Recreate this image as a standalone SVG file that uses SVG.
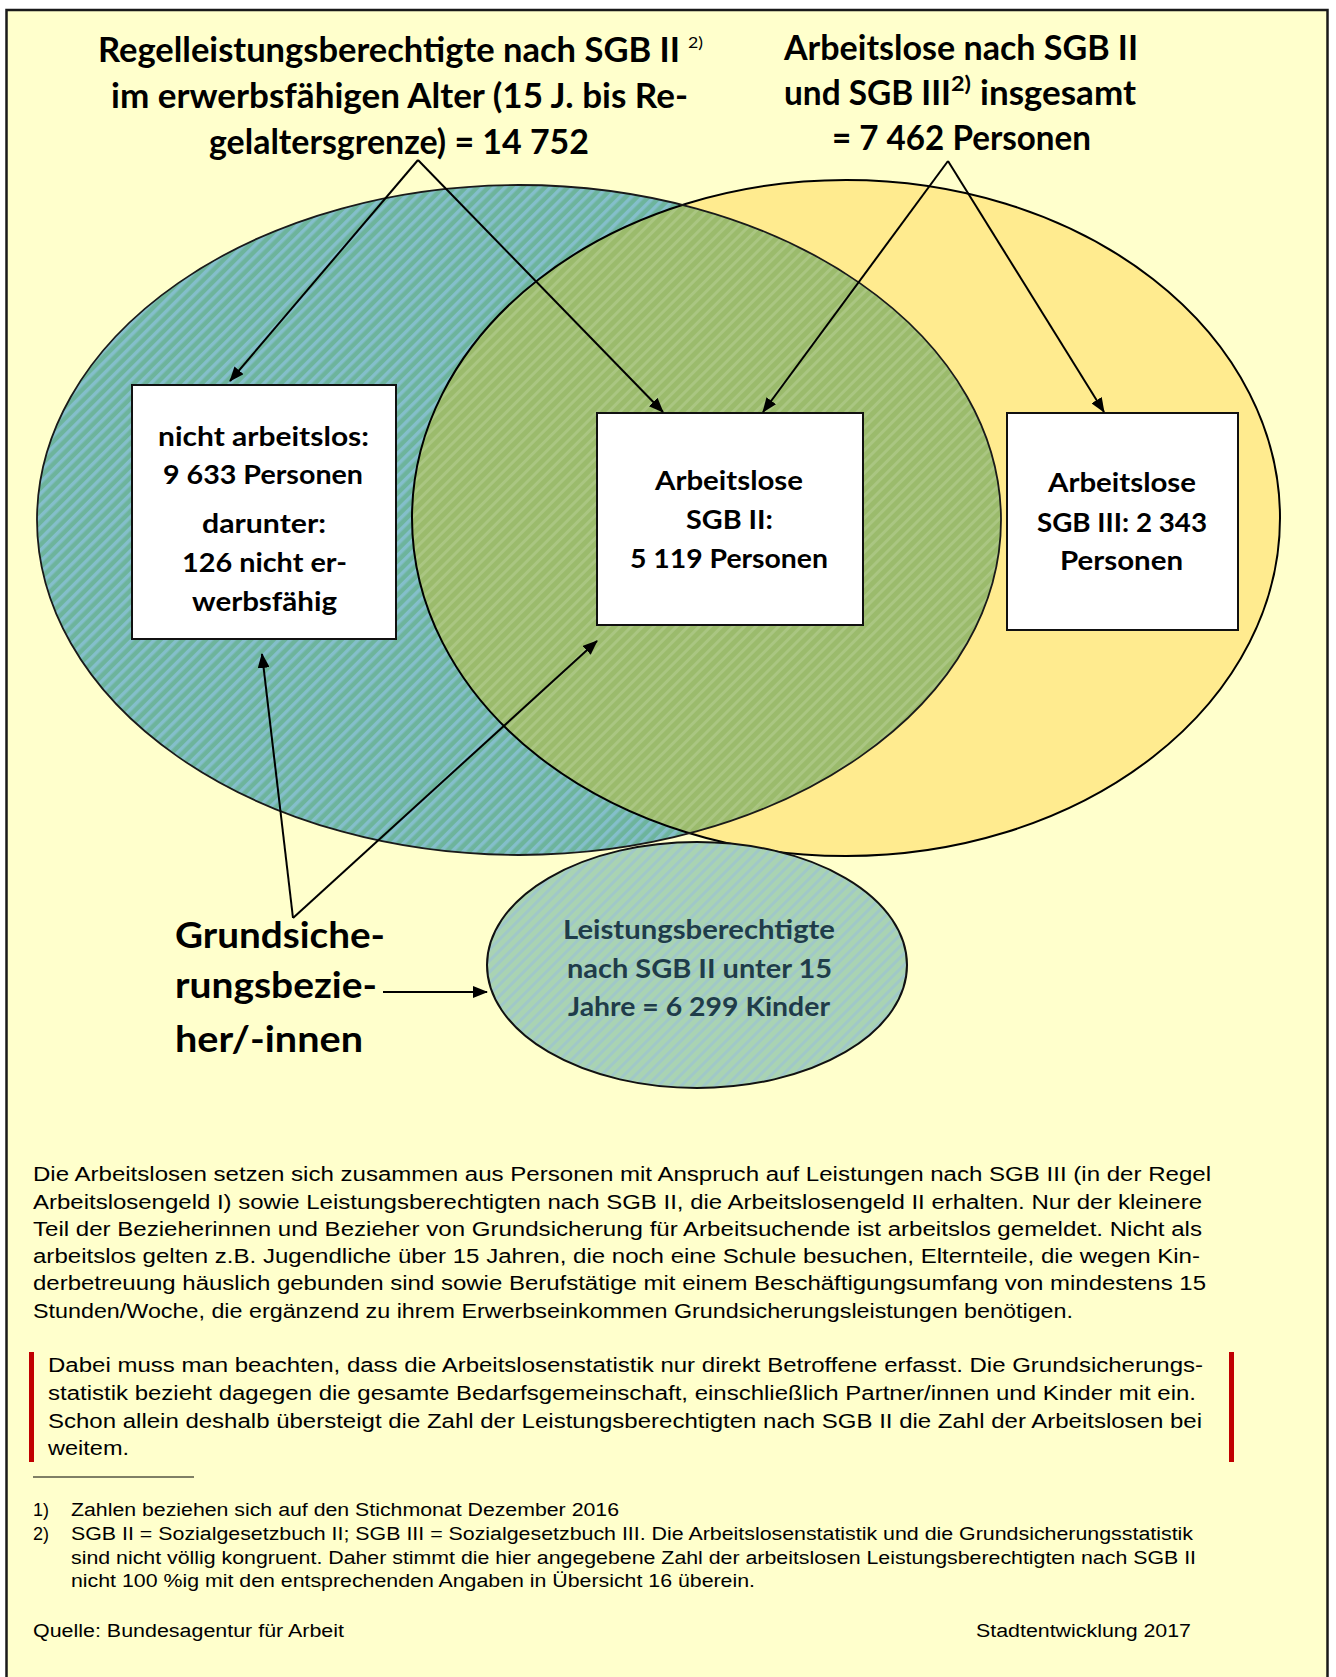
<svg xmlns="http://www.w3.org/2000/svg" width="1336" height="1677" viewBox="0 0 1336 1677">
<style>
.b{font-family:Lato,"Open Sans","DejaVu Sans",sans-serif;font-weight:bold;fill:#000}
.t{font-size:34px}
.bx{font-size:26px}
.g{font-size:36px}
.k{font-size:26px;fill:#1f3c4a}
.p{font-family:"Liberation Sans",Arial,sans-serif;font-size:20px;fill:#000}
.f{font-family:"Liberation Sans",Arial,sans-serif;font-size:18px;fill:#000}
.box{fill:#fff;stroke:#111;stroke-width:2}
.c{stroke:#000;stroke-width:2;fill:none;marker-end:url(#ah)}
</style>
<defs>
<marker id="ah" markerUnits="userSpaceOnUse" markerWidth="15" markerHeight="12" refX="14" refY="6" orient="auto">
<path d="M0,0 L15,6 L0,12 z" fill="#000"/>
</marker>
<pattern id="hb" width="8" height="8" patternUnits="userSpaceOnUse" patternTransform="rotate(45)">
<rect width="8" height="8" fill="#6db49c"/><rect width="3.5" height="8" fill="#84bfcb"/>
</pattern>
<pattern id="hg" width="8" height="8" patternUnits="userSpaceOnUse" patternTransform="rotate(45)">
<rect width="8" height="8" fill="#9bbb6c"/><rect width="3" height="8" fill="#aac682"/>
</pattern>
<pattern id="hs" width="8" height="8" patternUnits="userSpaceOnUse" patternTransform="rotate(45)">
<rect width="8" height="8" fill="#a9d3b3"/><rect width="3" height="8" fill="#a0c8c8"/>
</pattern>
<clipPath id="cy"><ellipse cx="846" cy="518" rx="434" ry="338"/></clipPath>
</defs>
<rect x="0" y="0" width="1336" height="1677" fill="#fff"/>
<rect x="6.5" y="10" width="1321" height="1690" fill="#ffffcc" stroke="#1a1a1a" stroke-width="2.5"/>

<g id="sets">
<ellipse cx="846" cy="518" rx="434" ry="338" fill="#ffeb8f"/>
<ellipse cx="519" cy="520" rx="482" ry="335" fill="url(#hb)"/>
<ellipse cx="519" cy="520" rx="482" ry="335" fill="url(#hg)" clip-path="url(#cy)"/>
<ellipse cx="846" cy="518" rx="434" ry="338" fill="none" stroke="#000" stroke-width="2"/>
<ellipse cx="519" cy="520" rx="482" ry="335" fill="none" stroke="#1a1a1a" stroke-width="1.8"/>
</g>

<g id="title-left">
<text class="b t" x="98" y="62" textLength="582" lengthAdjust="spacingAndGlyphs">Regelleistungsberechtigte nach SGB II</text>
<text class="b" style="font-size:16px;font-weight:normal" x="688" y="48" textLength="15" lengthAdjust="spacingAndGlyphs">2)</text>
<text class="b t" x="111" y="108" textLength="577" lengthAdjust="spacingAndGlyphs">im erwerbsfähigen Alter (15 J. bis Re-</text>
<text class="b t" x="209" y="154" textLength="380" lengthAdjust="spacingAndGlyphs">gelaltersgrenze) = 14 752</text>
</g>

<g id="title-right">
<text class="b t" x="784" y="60" textLength="354" lengthAdjust="spacingAndGlyphs">Arbeitslose nach SGB II</text>
<text class="b t" x="784" y="105" textLength="167" lengthAdjust="spacingAndGlyphs">und SGB III</text>
<text class="b" style="font-size:20px" x="951" y="91" textLength="20" lengthAdjust="spacingAndGlyphs">2)</text>
<text class="b t" x="980" y="105" textLength="156" lengthAdjust="spacingAndGlyphs">insgesamt</text>
<text class="b t" x="832" y="150" textLength="259" lengthAdjust="spacingAndGlyphs">= 7 462 Personen</text>
</g>

<g id="box-nicht-arbeitslos">
<rect class="box" x="132" y="385" width="264" height="254"/>
<text class="b bx" x="158" y="446" textLength="211" lengthAdjust="spacingAndGlyphs">nicht arbeitslos:</text>
<text class="b bx" x="163" y="484" textLength="200" lengthAdjust="spacingAndGlyphs">9 633 Personen</text>
<text class="b bx" x="202" y="533" textLength="124" lengthAdjust="spacingAndGlyphs">darunter:</text>
<text class="b bx" x="182" y="572" textLength="165" lengthAdjust="spacingAndGlyphs">126 nicht er-</text>
<text class="b bx" x="192" y="611" textLength="145" lengthAdjust="spacingAndGlyphs">werbsfähig</text>
</g>

<g id="box-sgb2">
<rect class="box" x="597" y="413" width="266" height="212"/>
<text class="b bx" x="655" y="490" textLength="148" lengthAdjust="spacingAndGlyphs">Arbeitslose</text>
<text class="b bx" x="686" y="529" textLength="87" lengthAdjust="spacingAndGlyphs">SGB II:</text>
<text class="b bx" x="630" y="568" textLength="198" lengthAdjust="spacingAndGlyphs">5 119 Personen</text>
</g>

<g id="box-sgb3">
<rect class="box" x="1007" y="413" width="231" height="217"/>
<text class="b bx" x="1048" y="492" textLength="148" lengthAdjust="spacingAndGlyphs">Arbeitslose</text>
<text class="b bx" x="1037" y="532" textLength="170" lengthAdjust="spacingAndGlyphs">SGB III: 2 343</text>
<text class="b bx" x="1060" y="570" textLength="123" lengthAdjust="spacingAndGlyphs">Personen</text>
</g>

<g id="kinder">
<ellipse cx="697" cy="965" rx="210" ry="123" fill="url(#hs)" stroke="#111" stroke-width="2"/>
<text class="b k" x="563" y="939" textLength="272" lengthAdjust="spacingAndGlyphs">Leistungsberechtigte</text>
<text class="b k" x="567" y="978" textLength="265" lengthAdjust="spacingAndGlyphs">nach SGB II unter 15</text>
<text class="b k" x="568" y="1016" textLength="262" lengthAdjust="spacingAndGlyphs">Jahre = 6 299 Kinder</text>
</g>

<g id="grundsicherung">
<text class="b g" x="175" y="948" textLength="210" lengthAdjust="spacingAndGlyphs">Grundsiche-</text>
<text class="b g" x="175" y="998" textLength="202" lengthAdjust="spacingAndGlyphs">rungsbezie-</text>
<text class="b g" x="175" y="1052" textLength="188" lengthAdjust="spacingAndGlyphs">her/-innen</text>
</g>

<g id="connectors">
<path class="c" d="M418,160 L230,381"/>
<path class="c" d="M418,160 L663,412"/>
<path class="c" d="M948,161 L763,412"/>
<path class="c" d="M948,161 L1104,412"/>
<path class="c" d="M293,918 L262,654"/>
<path class="c" d="M293,918 L597,641"/>
<path class="c" d="M383,992 L487,992"/>
</g>

<g id="text-body">
<text class="p" x="33" y="1181" textLength="1178" lengthAdjust="spacingAndGlyphs">Die Arbeitslosen setzen sich zusammen aus Personen mit Anspruch auf Leistungen nach SGB III (in der Regel</text>
<text class="p" x="33" y="1209" textLength="1169" lengthAdjust="spacingAndGlyphs">Arbeitslosengeld I) sowie Leistungsberechtigten nach SGB II, die Arbeitslosengeld II erhalten. Nur der kleinere</text>
<text class="p" x="33" y="1236" textLength="1169" lengthAdjust="spacingAndGlyphs">Teil der Bezieherinnen und Bezieher von Grundsicherung für Arbeitsuchende ist arbeitslos gemeldet. Nicht als</text>
<text class="p" x="33" y="1263" textLength="1167" lengthAdjust="spacingAndGlyphs">arbeitslos gelten z.B. Jugendliche über 15 Jahren, die noch eine Schule besuchen, Elternteile, die wegen Kin-</text>
<text class="p" x="33" y="1290" textLength="1173" lengthAdjust="spacingAndGlyphs">derbetreuung häuslich gebunden sind sowie Berufstätige mit einem Beschäftigungsumfang von mindestens 15</text>
<text class="p" x="33" y="1318" textLength="1040" lengthAdjust="spacingAndGlyphs">Stunden/Woche, die ergänzend zu ihrem Erwerbseinkommen Grundsicherungsleistungen benötigen.</text>
</g>

<g id="text-note">
<rect x="29" y="1352" width="5" height="110" fill="#c00000"/>
<rect x="1229" y="1352" width="5" height="110" fill="#c00000"/>
<text class="p" x="48" y="1372" textLength="1155" lengthAdjust="spacingAndGlyphs">Dabei muss man beachten, dass die Arbeitslosenstatistik nur direkt Betroffene erfasst. Die Grundsicherungs-</text>
<text class="p" x="48" y="1400" textLength="1148" lengthAdjust="spacingAndGlyphs">statistik bezieht dagegen die gesamte Bedarfsgemeinschaft, einschließlich Partner/innen und Kinder mit ein.</text>
<text class="p" x="48" y="1428" textLength="1154" lengthAdjust="spacingAndGlyphs">Schon allein deshalb übersteigt die Zahl der Leistungsberechtigten nach SGB II die Zahl der Arbeitslosen bei</text>
<text class="p" x="48" y="1455" textLength="81" lengthAdjust="spacingAndGlyphs">weitem.</text>
</g>

<g id="footnotes">
<line x1="33" y1="1477" x2="194" y2="1477" stroke="#000" stroke-width="1"/>
<text class="f" x="33" y="1516">1)</text>
<text class="f" x="71" y="1516" textLength="548" lengthAdjust="spacingAndGlyphs">Zahlen beziehen sich auf den Stichmonat Dezember 2016</text>
<text class="f" x="33" y="1540">2)</text>
<text class="f" x="71" y="1540" textLength="1122" lengthAdjust="spacingAndGlyphs">SGB II = Sozialgesetzbuch II; SGB III = Sozialgesetzbuch III. Die Arbeitslosenstatistik und die Grundsicherungsstatistik</text>
<text class="f" x="71" y="1564" textLength="1125" lengthAdjust="spacingAndGlyphs">sind nicht völlig kongruent. Daher stimmt die hier angegebene Zahl der arbeitslosen Leistungsberechtigten nach SGB II</text>
<text class="f" x="71" y="1587" textLength="684" lengthAdjust="spacingAndGlyphs">nicht 100 %ig mit den entsprechenden Angaben in Übersicht 16 überein.</text>
<text class="f" x="33" y="1637" textLength="311" lengthAdjust="spacingAndGlyphs">Quelle: Bundesagentur für Arbeit</text>
<text class="f" x="976" y="1637" textLength="215" lengthAdjust="spacingAndGlyphs">Stadtentwicklung 2017</text>
</g>
</svg>
